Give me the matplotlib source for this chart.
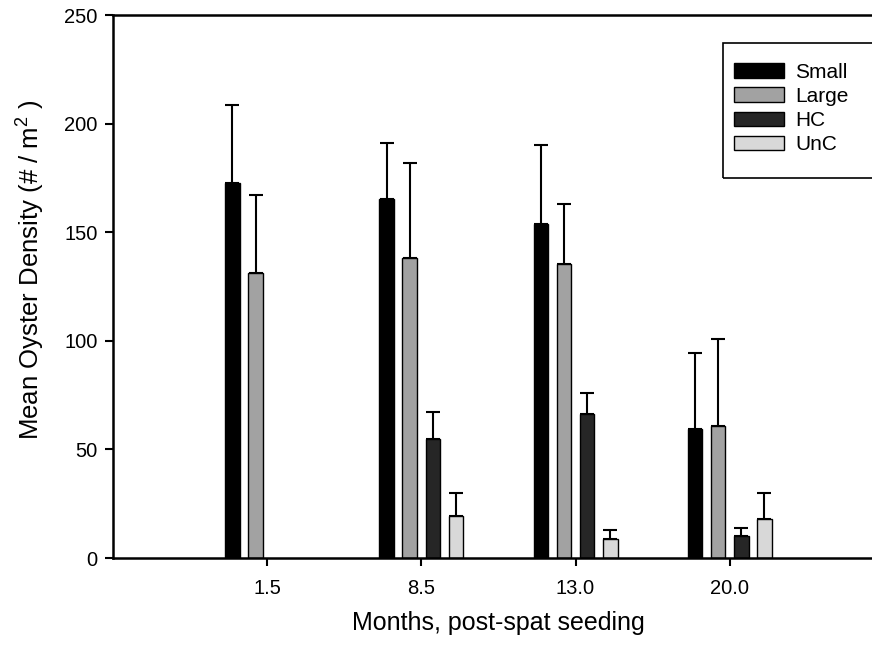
import numpy as np
import matplotlib.pyplot as plt
from matplotlib.patches import Rectangle

plt.rcParams['font.family'] = ['Liberation Sans', 'DejaVu Sans']
plt.rcParams['mathtext.fontset'] = 'custom'
plt.rcParams['mathtext.rm'] = 'Liberation Sans'
plt.rcParams['mathtext.default'] = 'regular'

# 数据: 各时间点的平均密度和标准误
months = ['1.5', '8.5', '13.0', '20.0']
small_mean = [172.8, 165.3, 153.6, 59.2]
small_se = [35.8, 25.6, 36.5, 35.3]
large_mean = [131.4, 138.0, 135.2, 60.9]
large_se = [35.6, 44.0, 27.8, 39.8]
hc_mean = [np.nan, 54.6, 66.4, 10.1]
hc_se = [np.nan, 12.8, 9.4, 3.6]
unc_mean = [np.nan, 19.5, 8.7, 17.8]
unc_se = [np.nan, 10.3, 4.3, 12.3]

series = [('Small', small_mean, small_se, '#000000'),
          ('Large', large_mean, large_se, '#a2a2a2'),
          ('HC', hc_mean, hc_se, '#262626'),
          ('UnC', unc_mean, unc_se, '#d8d8d8')]

fig = plt.figure(figsize=(8.72, 6.47), dpi=100)
ax = fig.add_axes([0.1296, 0.1375, 0.884, 0.8393])

x = np.arange(len(months))
offsets = [-0.225, -0.075, 0.075, 0.225]
width = 0.095

handles = []
for (name, mean, se, col), off in zip(series, offsets):
    mean = np.array(mean)
    se = np.array(se)
    ax.errorbar(x + off, mean, yerr=[np.zeros_like(se), se], fmt='none',
                ecolor='black', elinewidth=1.5, capsize=5, capthick=1.5, zorder=1)
    b = ax.bar(x + off, mean, width, color=col, edgecolor='black', linewidth=1, label=name, zorder=2)
    handles.append(b)

ax.set_xlim(-1, 4)
ax.set_ylim(0, 250)
ax.set_yticks([0, 50, 100, 150, 200, 250])
ax.set_xticks(x)
ax.set_xticklabels(months)
ax.tick_params(axis='both', labelsize=14.5, length=6, width=1.5, direction='out')
ax.tick_params(axis='x', pad=9)
ax.tick_params(axis='y', pad=5)

for s in ['left', 'bottom', 'top']:
    ax.spines[s].set_linewidth(1.8)
ax.spines['right'].set_visible(False)

ax.set_xlabel('Months, post-spat seeding', fontsize=18)
ax.set_ylabel('Mean Oyster Density (# / m$^{2}$ )', fontsize=18.5)
ax.xaxis.set_label_coords(0.5, -0.098)
ax.yaxis.set_label_coords(-0.085, 0.53)

# 图例框手动画
ax.add_patch(Rectangle((0.791, 0.700), 0.3, 0.248, transform=ax.transAxes,
                       fill=False, edgecolor='black', linewidth=1.2, clip_on=False))
ax.legend(handles=handles, loc='upper left', bbox_to_anchor=(0.805, 0.912),
          frameon=False, fontsize=15, borderpad=0, borderaxespad=0,
          handlelength=2.4, handleheight=0.7, handletextpad=0.55, labelspacing=0.25)

fig.savefig('out.png', dpi=100)
